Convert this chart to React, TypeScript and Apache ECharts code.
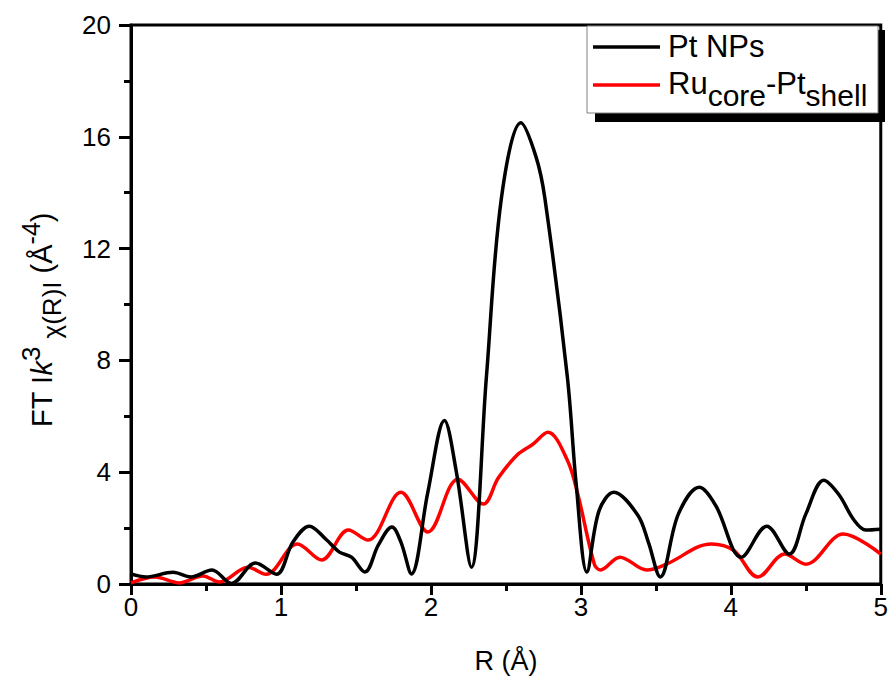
import React, { useEffect, useRef } from "react";
import * as echarts from "echarts";

// R (Å) positions and FT magnitudes
const rPtNPs = [0, 0.1, 0.28, 0.4, 0.54, 0.67, 0.83, 0.97, 1.08, 1.19, 1.3, 1.39, 1.47, 1.56, 1.65, 1.74, 1.8, 1.87, 1.98, 2.09, 2.17, 2.27, 2.37, 2.47, 2.6, 2.7, 2.76, 2.91, 2.97, 3.04, 3.12, 3.22, 3.38, 3.45, 3.53, 3.65, 3.79, 3.9, 4.07, 4.24, 4.39, 4.5, 4.62, 4.72, 4.82, 4.9, 5.0];
const ptNPs = [0.36, 0.25, 0.42, 0.25, 0.5, 0.02, 0.75, 0.35, 1.5, 2.07, 1.6, 1.14, 0.96, 0.43, 1.4, 2.04, 1.5, 0.36, 3.3, 5.85, 4.0, 0.6, 7.4, 13.8, 16.5, 15.3, 13.8, 7.4, 3.5, 0.43, 2.6, 3.28, 2.46, 1.5, 0.25, 2.5, 3.46, 2.8, 0.96, 2.07, 1.07, 2.5, 3.71, 3.2, 2.3, 1.93, 1.96];

const rRuPt = [0, 0.16, 0.32, 0.48, 0.59, 0.78, 0.9, 1.11, 1.27, 1.45, 1.58, 1.8, 1.98, 2.18, 2.35, 2.45, 2.58, 2.68, 2.78, 2.91, 2.98, 3.09, 3.13, 3.26, 3.44, 3.57, 3.87, 4.02, 4.18, 4.36, 4.5, 4.75, 5.0];
const ruCorePtShell = [0.04, 0.25, 0.04, 0.29, 0.07, 0.6, 0.35, 1.43, 0.86, 1.93, 1.57, 3.28, 1.86, 3.75, 2.86, 3.8, 4.64, 5.0, 5.43, 4.43, 3.2, 0.71, 0.5, 0.96, 0.5, 0.71, 1.43, 1.2, 0.25, 1.07, 0.71, 1.79, 1.07];

const seriesNames = ["Pt NPs", "Ru-core-Pt-shell"];
const xMin = 0, xMax = 5, xStep = 1;
const yMin = 0, yMax = 20, yStep = 4;

const FONT = "'Liberation Sans', Arial, sans-serif";

type Seg = { t: string; s: number; dy: number; it?: boolean };

function layoutSegs(segs: Seg[], z: number) {
  const ctx = document.createElement("canvas").getContext("2d")!;
  let x = 0;
  const out: any[] = [];
  for (const g of segs) {
    ctx.font = `${g.it ? "italic " : ""}${g.s}px 'Liberation Sans'`;
    const w = ctx.measureText(g.t).width;
    out.push({
      type: "text", x, y: g.dy - 0.35 * g.s, z,
      style: { text: g.t, fontFamily: FONT, fontSize: g.s, fontStyle: g.it ? "italic" : "normal", fill: "#000", align: "left", verticalAlign: "middle" },
    });
    x += w;
  }
  return out;
}

export default function App() {
  const ref = useRef<HTMLDivElement>(null);
  useEffect(() => {
    document.body.style.margin = "0";
    const chart = echarts.init(ref.current!, null, { renderer: "svg" });
    const pt = rPtNPs.map((r, i) => [r, ptNPs[i]]);
    const ru = rRuPt.map((r, i) => [r, ruCorePtShell[i]]);

    const yTitle: Seg[] = [
      { t: "FT I", s: 29, dy: 0 },
      { t: "k", s: 29, dy: 0, it: true },
      { t: "3", s: 26, dy: -12 },
      { t: " ", s: 29, dy: 0 },
      { t: "χ(R)I", s: 26, dy: 9 },
      { t: " (Å", s: 29, dy: 0 },
      { t: "-4", s: 25, dy: -12 },
      { t: ")", s: 29, dy: 0 },
    ];
    const ruLabel: Seg[] = [
      { t: "Ru", s: 31, dy: 0 },
      { t: "core", s: 30, dy: 12 },
      { t: "-Pt", s: 31, dy: 0 },
      { t: "shell", s: 30, dy: 12 },
    ];

    chart.setOption({
      animation: false,
      backgroundColor: "#fff",
      grid: { left: 131, right: 6, top: 25, bottom: 91, show: true, borderColor: "#000", borderWidth: 3 },
      xAxis: {
        type: "value", min: xMin, max: xMax, interval: xStep,
        name: "R (Å)", nameLocation: "middle", nameGap: 63,
        nameTextStyle: { fontFamily: FONT, fontSize: 27, color: "#000" },
        axisLine: { show: true, lineStyle: { color: "#000", width: 3 } },
        axisTick: { show: true, inside: false, length: 11, lineStyle: { color: "#000", width: 3 } },
        minorTick: { show: true, splitNumber: 2, length: 7, lineStyle: { color: "#000", width: 3 } },
        axisLabel: { fontFamily: FONT, fontSize: 26, color: "#000", margin: 10 },
        splitLine: { show: false },
      },
      yAxis: {
        type: "value", min: yMin, max: yMax, interval: yStep,
        axisLine: { show: true, lineStyle: { color: "#000", width: 3 } },
        axisTick: { show: true, inside: false, length: 12, lineStyle: { color: "#000", width: 3 } },
        minorTick: { show: true, splitNumber: 2, length: 7, lineStyle: { color: "#000", width: 3 } },
        axisLabel: { fontFamily: FONT, fontSize: 26, color: "#000", margin: 20 },
        splitLine: { show: false },
      },
      series: [
        { name: seriesNames[0], type: "line", data: pt, smooth: 0.35, showSymbol: false, lineStyle: { color: "#000", width: 3.5 }, z: 3 },
        { name: seriesNames[1], type: "line", data: ru, smooth: 0.35, showSymbol: false, lineStyle: { color: "#ff0000", width: 3.5 }, z: 2 },
      ],
      graphic: [
        { type: "group", x: 52, y: 427, rotation: Math.PI / 2, children: layoutSegs(yTitle, 10), z: 10 },
        { type: "rect", shape: { x: 595, y: 30, width: 290, height: 92 }, style: { fill: "#000" }, z: 20 },
        { type: "rect", shape: { x: 587, y: 26, width: 291, height: 87 }, style: { fill: "#fff", stroke: "#808080", lineWidth: 1 }, z: 21 },
        { type: "line", shape: { x1: 593, y1: 47, x2: 660, y2: 47 }, style: { stroke: "#000", lineWidth: 3.5 }, z: 22 },
        { type: "group", x: 668, y: 57, children: layoutSegs([{ t: "Pt NPs", s: 31, dy: 0 }], 23), z: 23 },
        { type: "line", shape: { x1: 593, y1: 85, x2: 660, y2: 85 }, style: { stroke: "#ff0000", lineWidth: 3.5 }, z: 22 },
        { type: "group", x: 668, y: 94, children: layoutSegs(ruLabel, 23), z: 23 },
      ],
    });
    return () => chart.dispose();
  }, []);
  return <div ref={ref} style={{ width: 891, height: 679 }} />;
}
